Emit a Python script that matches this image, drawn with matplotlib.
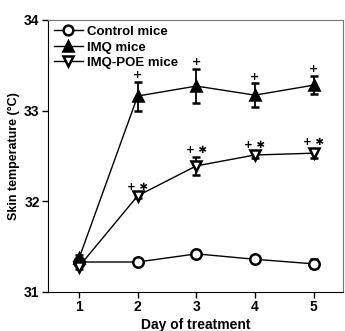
import matplotlib
matplotlib.use('Agg')
import matplotlib.pyplot as plt
from matplotlib.lines import Line2D

plt.rcParams['font.family'] = ['Liberation Sans', 'DejaVu Sans']
plt.rcParams['font.weight'] = 'bold'

days = [1, 2, 3, 4, 5]
control = [31.33, 31.33, 31.42, 31.36, 31.31]
control_err = [0.03, 0.02, 0.03, 0.02, 0.05]
imq = [31.37, 33.16, 33.27, 33.17, 33.28]
imq_err = [0.04, 0.16, 0.19, 0.13, 0.10]
poe = [31.28, 32.06, 32.39, 32.51, 32.53]
poe_err = [0.03, 0.02, 0.10, 0.03, 0.05]
imq_marks = ['', '+', '+', '+', '+']
poe_marks = ['', '+ \u2731', '+ \u2731', '+ \u2731', '+ \u2731']

fig = plt.figure(figsize=(3.45, 3.31), dpi=100)
ax = fig.add_axes([0.139, 0.118, 0.855, 0.822])

kw = dict(color='black', lw=1, capsize=3, elinewidth=1.3, capthick=1.3,
          markersize=7.5, markeredgewidth=1.8)
ax.errorbar(days, control, yerr=control_err, marker='o', mfc='white', zorder=3, **kw)
ax.errorbar(days, imq, yerr=imq_err, marker='^', mfc='black', zorder=4, **kw)
ax.errorbar(days, poe, yerr=poe_err, marker='v', mfc='white', zorder=5, **kw)

for d, v, e, m in zip(days, imq, imq_err, imq_marks):
    if m:
        ax.text(d, v + e + 0.02, m, ha='center', va='bottom', fontsize=8,
                family=['DejaVu Sans'])
for d, v, e, m in zip(days, poe, poe_err, poe_marks):
    if m:
        ax.text(d, v + e + 0.02, m, ha='center', va='bottom', fontsize=7.5,
                family=['DejaVu Sans'])

ax.set_xlim(0.47, 5.5)
ax.set_ylim(31, 34)
ax.set_xticks(days)
ax.set_yticks([31, 32, 33, 34])
ax.tick_params(direction='out', length=4, width=1, labelsize=10, pad=2)
for s in ['top', 'right']:
    ax.spines[s].set_color('#777777')
    ax.spines[s].set_linewidth(0.8)
ax.set_xlabel('Day of treatment', fontsize=10, fontweight='bold', labelpad=3)
ax.set_ylabel('Skin temperature (°C)', fontsize=9, fontweight='bold', labelpad=3)

handles = [
    Line2D([], [], color='black', lw=1, marker='o', mfc='white', mew=1.8, ms=7),
    Line2D([], [], color='black', lw=1, marker='^', mfc='black', mew=1.8, ms=7),
    Line2D([], [], color='black', lw=1, marker='v', mfc='white', mew=1.8, ms=7),
]
labels = ['Control mice', 'IMQ mice', 'IMQ-POE mice']
leg = ax.legend(handles, labels, loc='upper left', frameon=False, fontsize=9.5,
                handlelength=2.2, handletextpad=0.3, borderaxespad=0.15,
                labelspacing=0.25, borderpad=0.3)
for t in leg.get_texts():
    t.set_fontweight('bold')

fig.savefig('out.png', dpi=100)
